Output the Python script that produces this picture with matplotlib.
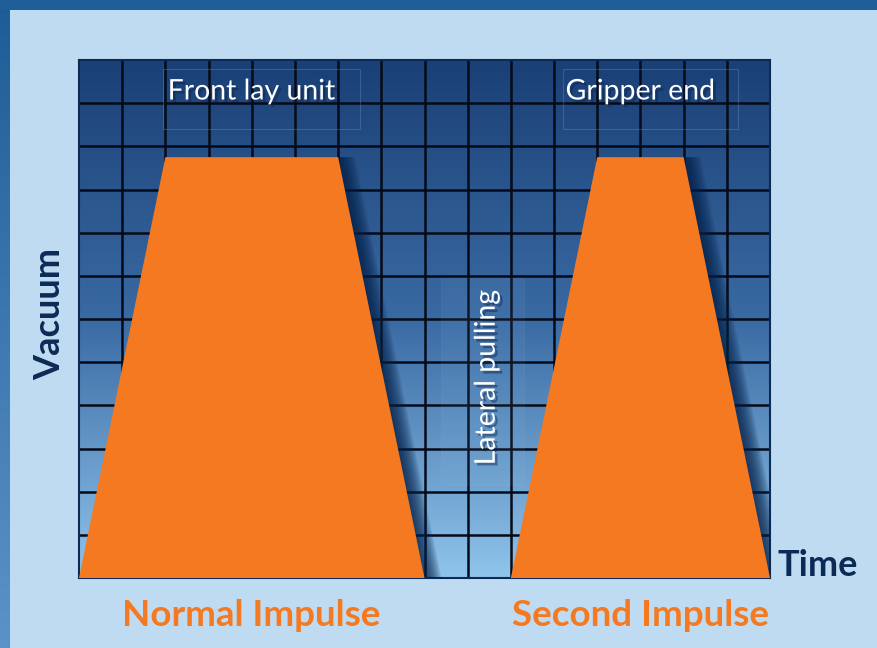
import numpy as np
import matplotlib.pyplot as plt
import matplotlib.patheffects as pe
from matplotlib.colors import LinearSegmentedColormap
from matplotlib.patches import Polygon, Rectangle

# grid of 16 x 12 cells, impulses in grid units
n_cols = 16
n_rows = 12
normal_x = [0, 2, 6, 8]
second_x = [10, 12, 14, 16]
impulse_top = 9.75

labels_top = ['Front lay unit', 'Gripper end']
label_mid = 'Lateral pulling'
impulse_names = ['Normal Impulse', 'Second Impulse']

orange = '#f47920'
navy = '#0b2a55'

plt.rcParams['font.family'] = ['Lato', 'DejaVu Sans']

fig = plt.figure(figsize=(8.77, 6.48), dpi=100)
fig.patch.set_facecolor('#bfdbf1')

# outer dark frame (top and left strips)
bg = fig.add_axes([0, 0, 1, 1])
bg.set_xlim(0, 877)
bg.set_ylim(648, 0)
bg.axis('off')
bg.add_patch(Rectangle((0, 0), 877, 10, color='#1f5e98', lw=0))
left_grad = np.linspace(0, 1, 256).reshape(-1, 1)
frame_cmap = LinearSegmentedColormap.from_list('frame', ['#1e5c97', '#5b93c8'])
bg.imshow(left_grad, cmap=frame_cmap, extent=(0, 10, 648, 0), aspect='auto')

ax = fig.add_axes([79 / 877, 1 - 578 / 648, 691 / 877, 518 / 648])

grad = np.linspace(0, 1, 256).reshape(-1, 1)
bg_cmap = LinearSegmentedColormap.from_list('bg', ['#1a4076', '#3a6aa3', '#8fc4eb'])
ax.imshow(grad, cmap=bg_cmap, extent=(0, n_cols, 0, n_rows), origin='upper',
          aspect='auto', zorder=0)
ax.set_xlim(0, n_cols)
ax.set_ylim(0, n_rows)

for i in range(1, n_cols):
    ax.axvline(i, color='#050a18', lw=1.8, zorder=1)
for j in range(1, n_rows):
    ax.axhline(j, color='#050a18', lw=1.8, zorder=1)

# faint label boxes
ax.add_patch(Rectangle((1.95, 10.4), 4.55, 1.4, fill=False, ec='#6f93c0', lw=0.8, alpha=0.35, zorder=2))
ax.add_patch(Rectangle((11.2, 10.4), 4.05, 1.4, fill=False, ec='#6f93c0', lw=0.8, alpha=0.35, zorder=2))
ax.add_patch(Rectangle((8.38, 2.15), 1.92, 4.8, fc='#9cc8ee', ec='#b5d4f0', lw=0.6, alpha=0.07, zorder=2))

for xs in (normal_x, second_x):
    pts = [(xs[0], 0), (xs[1], impulse_top), (xs[2], impulse_top), (xs[3], 0)]
    # soft shadow on the right slope
    for k in range(14, 0, -1):
        dx = k * 0.028
        shadow = [(x + dx, y) for x, y in pts]
        ax.add_patch(Polygon(shadow, closed=True, color='#06224a', alpha=0.1, lw=0, zorder=3))
    ax.add_patch(Polygon(pts, closed=True, color=orange, lw=0, zorder=4))

glow = [pe.withSimplePatchShadow(offset=(2, -2), shadow_rgbFace='#0a2148', alpha=0.45)]
ax.text(4.0, 11.27, labels_top[0], color='white', fontsize=20.5, ha='center', va='center',
        zorder=5, path_effects=glow)
ax.text(13.0, 11.27, labels_top[1], color='white', fontsize=20.5, ha='center', va='center',
        zorder=5, path_effects=glow)
ax.text(9.44, 4.65, label_mid, color='white', fontsize=20.5, rotation=90,
        ha='center', va='center', zorder=5, path_effects=glow)

for s in ax.spines.values():
    s.set_color('#0d2a55')
    s.set_linewidth(1.5)
ax.set_xticks([])
ax.set_yticks([])

fig.text(50 / 877, 1 - 314 / 648, 'Vacuum', color=navy, fontsize=26, fontweight='bold',
         rotation=90, ha='center', va='center')
fig.text(818 / 877, 1 - 566 / 648, 'Time', color=navy, fontsize=26, fontweight='bold',
         ha='center', va='center')
fig.text(251 / 877, 1 - 615 / 648, impulse_names[0], color=orange, fontsize=26.5, fontweight='bold',
         ha='center', va='center')
fig.text(641 / 877, 1 - 615 / 648, impulse_names[1], color=orange, fontsize=26.5, fontweight='bold',
         ha='center', va='center')

fig.savefig('out.png', dpi=100, facecolor=fig.get_facecolor())
